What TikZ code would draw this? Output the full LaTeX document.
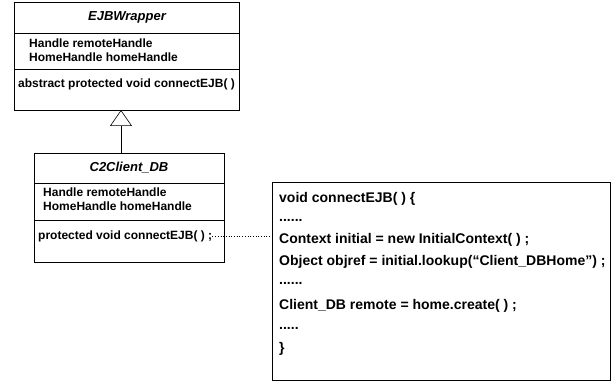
\documentclass[tikz,border=0pt]{standalone}
\usepackage{fontspec}
\setmainfont{Liberation Sans}
\usetikzlibrary{arrows.meta}
\begin{document}
\begin{tikzpicture}[x=1pt,y=-1pt,
  classbox/.style={draw, line width=0.8pt, inner sep=0pt, rectangle},
  divider/.style={line width=0.8pt},
  classtitle/.style={inner sep=0pt, font=\fontsize{13}{15}\selectfont\bfseries\itshape},
  member/.style={inner sep=0pt, anchor=west, font=\fontsize{12}{14}\selectfont\bfseries},
  codeline/.style={inner sep=0pt, anchor=west, font=\fontsize{14}{16}\selectfont\bfseries},
  inherit/.style={-{Triangle[open, length=16pt, width=22pt]}, line width=0.6pt},
  note/.style={dotted, line width=0.7pt}]
\useasboundingbox (0,0) rectangle (613,382);
\fill[white] (0,0) rectangle (613,382);

% abstract base class
\node[classbox, minimum width=225pt, minimum height=108pt] (wrap) at (127,56) {};
\draw[divider] (14.5,33) -- (239.5,33);
\draw[divider] (14.5,69) -- (239.5,69);
\node[classtitle] (wrapname) at (127,17) {EJBWrapper};
\node[member] (wrapa1) at (29,43) {Handle remoteHandle};
\node[member] (wrapa2) at (29,57) {HomeHandle homeHandle};
\node[member] (wrapm1) at (18,84) {abstract protected void connectEJB( )};

% concrete subclass
\node[classbox, minimum width=190pt, minimum height=109pt] (client) at (129,207.5) {};
\draw[divider] (34,183) -- (224,183);
\draw[divider] (34,220) -- (224,220);
\node[classtitle] (clientname) at (129,168) {C2Client\_DB};
\node[member] (clienta1) at (43,192) {Handle remoteHandle};
\node[member] (clienta2) at (43,206) {HomeHandle homeHandle};
\node[member] (clientm1) at (38,236) {protected void connectEJB( ) ;};

% generalization
\coordinate (clienttop) at (121,153);
\coordinate (wrapbottom) at (121,110);
\draw[inherit] (clienttop) -- (wrapbottom);

% implementation note
\node[classbox, minimum width=338pt, minimum height=198pt] (code) at (441,281) {};
\node[codeline] (c1) at (279,199) {void connectEJB( ) \{};
\node[codeline] (c2) at (279,220) {......};
\node[codeline] (c3) at (279,240) {Context initial = new InitialContext( ) ;};
\node[codeline] (c4) at (279,262) {Object objref = initial.lookup(“Client\_DBHome”) ;};
\node[codeline] (c5) at (279,283) {......};
\node[codeline] (c6) at (279,306) {Client\_DB remote = home.create( ) ;};
\node[codeline] (c7) at (279,328) {.....};
\node[codeline] (c8) at (279,349) {\}};

\draw[note] (clientm1.east) -- (clientm1.east -| code.west);
\end{tikzpicture}
\end{document}
